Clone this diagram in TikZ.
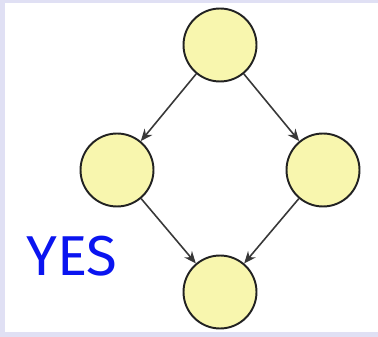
\documentclass[tikz,border=0pt]{standalone}
\usepackage{fontspec}
\usepackage{tikz}
\usetikzlibrary{arrows.meta,positioning}
\newfontfamily\yesfont{Fira Sans}
\definecolor{lila}{HTML}{E0E0F4}
\definecolor{amarillo}{HTML}{F8F6AE}
\definecolor{trazo}{HTML}{222222}
\definecolor{azulsi}{HTML}{0A14F0}
\tikzset{
  nodo/.style={circle,draw=trazo,fill=amarillo,line width=1.1pt,minimum size=1.46cm,inner sep=0pt},
  flecha/.style={-{Stealth[length=2.4mm,width=2mm]},line width=0.9pt,trazo!90},
  etiqueta/.style={text=azulsi,font=\yesfont\fontsize{32}{36}\selectfont,inner sep=0pt},
}
\begin{document}
\begin{tikzpicture}[x=0.02cm,y=-0.02cm]
  % fondo
  \fill[lila] (0,0) rectangle (378,337);
  \fill[white] (5,3) rectangle (378,332);
  \useasboundingbox (0,0) rectangle (378,337);
  % nodos
  \node[nodo] (arriba) at (220,45) {};
  \node[nodo] (izq) at (117,170) {};
  \node[nodo] (der) at (323,170) {};
  \node[nodo] (abajo) at (220,292) {};
  % aristas
  \draw[flecha] (arriba) -- (izq);
  \draw[flecha] (arriba) -- (der);
  \draw[flecha] (izq) -- (abajo);
  \draw[flecha] (der) -- (abajo);
  \node[etiqueta] (si) at (72,256) {YES};
\end{tikzpicture}
\end{document}
